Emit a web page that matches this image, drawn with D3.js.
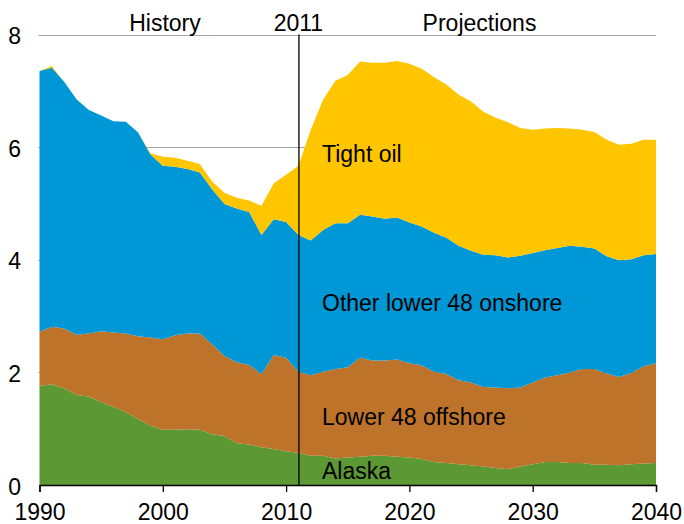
<!DOCTYPE html>
<html>
<head>
<meta charset="utf-8">
<script src="https://cdn.jsdelivr.net/npm/d3@7"></script>
<style>
  html, body { margin: 0; padding: 0; background: #ffffff; }
  svg { display: block; }
  text { font-family: "Liberation Sans", Arial, sans-serif; fill: #000; }
</style>
</head>
<body>
<svg id="chart" width="684" height="524"></svg>
<script>
// ---- data (million barrels per day) ----
const years = d3.range(1990, 2041);

const alaska = [1.76,1.79,1.72,1.60,1.57,1.47,1.39,1.29,1.17,1.05,
  0.98,0.98,0.99,0.98,0.90,0.87,0.74,0.72,0.67,0.64,
  0.60,0.57,0.52,0.52,0.47,0.49,0.50,0.52,0.52,0.50,
  0.49,0.46,0.41,0.39,0.37,0.35,0.33,0.30,0.28,0.33,
  0.37,0.41,0.41,0.39,0.39,0.36,0.36,0.35,0.37,0.38,0.39];

const offshore = [0.96,1.02,1.06,1.07,1.12,1.26,1.32,1.40,1.47,1.57,
  1.61,1.68,1.70,1.71,1.60,1.42,1.44,1.41,1.30,1.67,
  1.66,1.44,1.43,1.49,1.59,1.60,1.76,1.69,1.69,1.73,
  1.67,1.66,1.60,1.58,1.49,1.47,1.41,1.43,1.44,1.40,
  1.45,1.50,1.54,1.61,1.67,1.70,1.62,1.57,1.62,1.73,1.77];

const onshore = [4.63,4.60,4.38,4.18,3.97,3.83,3.75,3.76,3.62,3.25,
  3.08,2.99,2.92,2.86,2.75,2.70,2.73,2.72,2.47,2.41,
  2.41,2.43,2.39,2.52,2.59,2.56,2.54,2.56,2.52,2.52,
  2.50,2.47,2.47,2.42,2.39,2.34,2.35,2.35,2.32,2.34,
  2.30,2.26,2.26,2.25,2.17,2.14,2.08,2.07,2.02,1.97,1.94];

const tightOil = [0.00,0.03,0.00,0.00,0.00,0.00,0.00,0.00,0.00,0.02,
  0.16,0.16,0.15,0.15,0.14,0.20,0.19,0.20,0.52,0.64,
  0.84,1.23,1.97,2.31,2.53,2.63,2.72,2.73,2.77,2.78,
  2.82,2.80,2.76,2.72,2.68,2.65,2.54,2.44,2.40,2.27,
  2.19,2.16,2.13,2.08,2.08,2.07,2.07,2.05,2.05,2.05,2.03];

const seriesKeys = ["alaska", "offshore", "onshore", "tight"];
const seriesLabels = ["Alaska", "Lower 48 offshore", "Other lower 48 onshore", "Tight oil"];
const seriesColors = ["#5C9833", "#BE732B", "#0097D7", "#FFC600"];
const yTicks = [0, 2, 4, 6, 8];
const xTicks = [1990, 2000, 2010, 2020, 2030, 2040];
const dividerYear = 2011;
const periodLabels = ["History", "2011", "Projections"];

// ---- build table ----
const table = years.map((yr, i) => ({
  year: yr, alaska: alaska[i], offshore: offshore[i], onshore: onshore[i], tight: tightOil[i]
}));

const FS = "23px";
const svg = d3.select("#chart");
const x = d3.scaleLinear().domain([1990, 2040]).range([39.5, 656]);
const y = d3.scaleLinear().domain([0, 8]).range([485, 34.5]);

// gridlines
svg.append("g").selectAll("line").data(yTicks.filter(d => d > 0)).join("line")
  .attr("x1", x(1990) - 1).attr("x2", x(2040))
  .attr("y1", d => Math.round(y(d)) + 0.5).attr("y2", d => Math.round(y(d)) + 0.5)
  .attr("stroke", "#A6A6A6").attr("stroke-width", 1);

// stacked areas
const stack = d3.stack().keys(seriesKeys);
const stacked = stack(table);
const area = d3.area()
  .x(d => x(d.data.year))
  .y0(d => y(d[0]))
  .y1(d => y(d[1]));

svg.append("g").selectAll("path").data(stacked).join("path")
  .attr("d", area)
  .attr("fill", (d, i) => seriesColors[i]);

// x axis
const xAxis = d3.axisBottom(x).tickValues(xTicks).tickFormat(d3.format("d"))
  .tickSize(7).tickPadding(12);
const gx = svg.append("g").attr("transform", `translate(0,${485})`).call(xAxis);
gx.select(".domain").attr("stroke", "#000").attr("stroke-width", 1.3);
gx.selectAll(".tick line").attr("stroke", "#000").attr("stroke-width", 1.3);
gx.selectAll(".tick text")
  .style("font-family", '"Liberation Sans", Arial, sans-serif')
  .style("font-size", FS).attr("fill", "#000");

// y axis labels
const yAxis = d3.axisLeft(y).tickValues(yTicks).tickFormat(d3.format("d")).tickSize(0).tickPadding(0);
const gy = svg.append("g").attr("transform", `translate(21,0)`).call(yAxis);
gy.select(".domain").remove();
gy.selectAll(".tick text")
  .style("font-family", '"Liberation Sans", Arial, sans-serif')
  .style("font-size", FS).attr("fill", "#000").attr("dy", "0.4em");

// divider line at 2011
svg.append("line")
  .attr("x1", x(dividerYear) + 0.5).attr("x2", x(dividerYear) + 0.5)
  .attr("y1", y(8)).attr("y2", y(0))
  .attr("stroke", "#000").attr("stroke-width", 1.3);

// period labels
const periodX = [165, x(dividerYear), 479.5];
svg.append("g").selectAll("text").data(periodLabels).join("text")
  .attr("x", (d, i) => periodX[i]).attr("y", 31)
  .attr("text-anchor", "middle")
  .style("font-size", FS)
  .text(d => d);

// series labels
const labelY = [479, 425, 311, 162];
svg.append("g").selectAll("text").data(seriesLabels).join("text")
  .attr("x", 322).attr("y", (d, i) => labelY[i])
  .style("font-size", FS)
  .text(d => d);
</script>
</body>
</html>
